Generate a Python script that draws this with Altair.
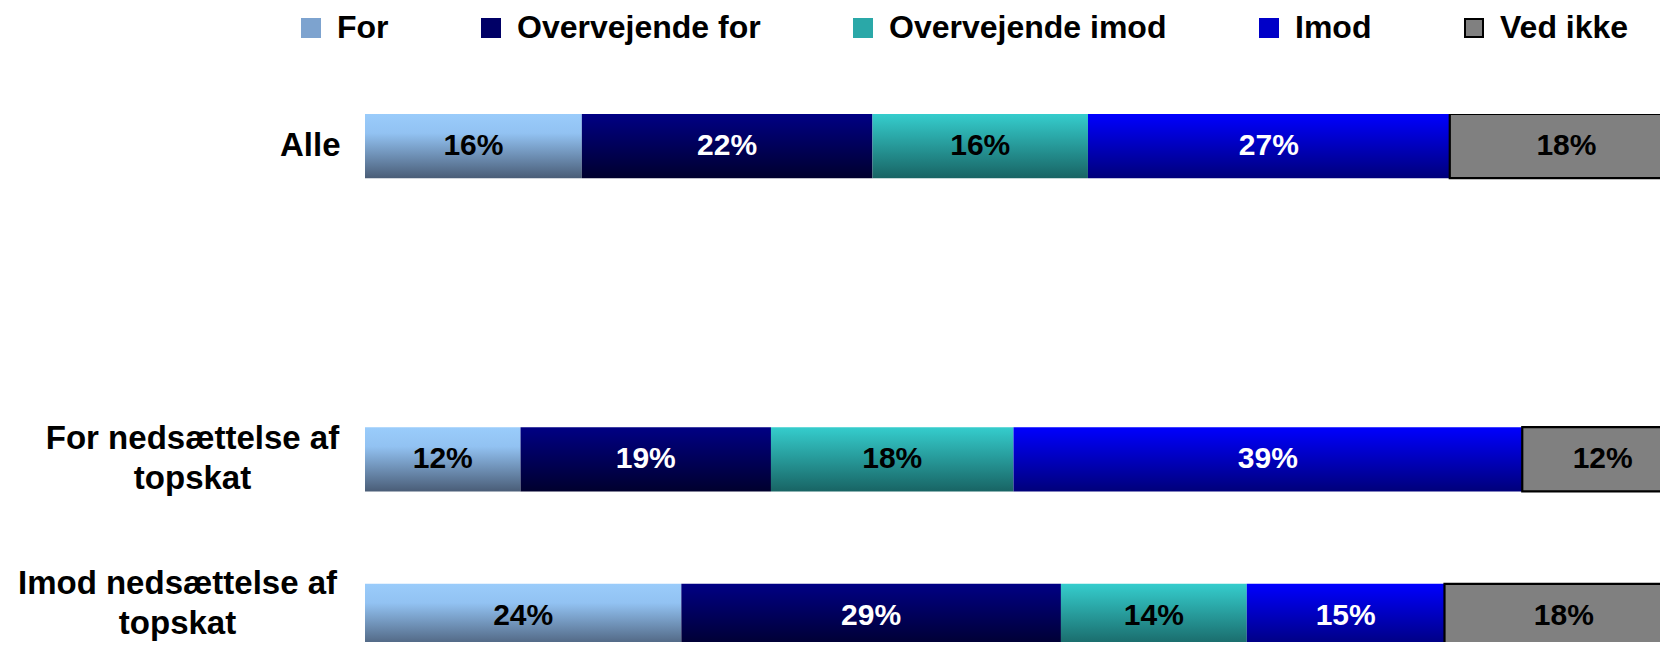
import altair as alt
import pandas as pd

# Answer categories (legend order / stack order)
svar = ["For", "Overvejende for", "Overvejende imod", "Imod", "Ved ikke"]
# Respondent groups (rows)
grupper = ["Alle", "For nedsættelse af\ntopskat", "Imod nedsættelse af\ntopskat"]
# Shares in % (printed labels are rounded)
alle = [16.45, 22.05, 16.35, 27.45, 17.7]
for_nedsaettelse = [11.8, 19.0, 18.4, 38.6, 12.2]
imod_nedsaettelse = [24.0, 28.8, 14.1, 15.0, 18.1]

rows = []
for g, vals in zip(grupper, [alle, for_nedsaettelse, imod_nedsaettelse]):
    for i, (s, v) in enumerate(zip(svar, vals)):
        rows.append({"Gruppe": g, "Svar": s, "Orden": i, "Andel": v})
df = pd.DataFrame(rows)

y_domain = [grupper[0], " ", grupper[1], grupper[2]]

legend_colors = ["#7DA3CF", "#000066", "#2AA8A8", "#0000C8", "#808080"]
stroke_colors = ["#7DA3CF", "#000066", "#2AA8A8", "#0000C8", "#000000"]


def grad(stops):
    return {
        "gradient": "linear", "x1": 0, "y1": 0, "x2": 0, "y2": 1,
        "stops": [{"offset": o, "color": c} for o, c in stops],
    }


gradients = {
    "For": grad([(0, "#9ACCFB"), (0.3, "#92C2F2"), (1, "#4A5D77")]),
    "Overvejende for": grad([(0, "#000084"), (1, "#00002E")]),
    "Overvejende imod": grad([(0, "#35CDCD"), (1, "#186464")]),
    "Imod": grad([(0, "#0000FF"), (1, "#00007A")]),
}
color_conditions = [
    {"test": f"datum.Svar === '{k}'", "value": v} for k, v in gradients.items()
]

FONT = "Liberation Sans"

legend = alt.Legend(
    title=None,
    orient="none",
    legendX=-70,
    legendY=-102,
    direction="horizontal",
    symbolType="square",
    symbolSize=324,
    symbolStrokeWidth=2,
    labelFont=FONT,
    labelFontSize=32,
    labelFontWeight="bold",
    labelColor="black",
    labelOffset=10,
    columnPadding=86,
    padding=0,
    labelLimit=0,
)

PLOT_W = 1295
x_scale = alt.Scale(domain=[0, 98.25], nice=False, zero=True)
# band positions follow the reference; the lowest row runs slightly past the page edge
y_scale = alt.Scale(domain=y_domain, paddingInner=0.59, paddingOuter=0, range=[0, 534])
y_axis = alt.Axis(
    title=None,
    domain=False,
    ticks=False,
    tickSize=0,
    grid=False,
    labelFont=FONT,
    labelFontSize=33,
    labelFontWeight="bold",
    labelColor="black",
    labelLineHeight=40,
    labelBaseline="middle",
    labelLimit=0,
    labelExpr="split(datum.label, '\\n')",
    labelAlign={
        "condition": {"test": "datum.value === 'Alle'", "value": "right"},
        "value": "center",
    },
    labelPadding={
        "condition": [
            {"test": "datum.value === 'Alle'", "value": 25},
            {"test": "indexof(datum.value, 'Imod') === 0", "value": 188},
        ],
        "value": 173,
    },
    labelOffset={
        "condition": [
            {"test": "datum.value === 'Alle'", "value": 0},
            {"test": "indexof(datum.value, 'Imod') === 0", "value": -32},
        ],
        "value": -20,
    },
)

base = alt.Chart(df).transform_stack(
    stack="Andel",
    groupby=["Gruppe"],
    as_=["x0", "x1"],
    sort=[alt.SortField("Orden", order="ascending")],
).transform_calculate(
    mid="(datum.x0 + datum.x1) / 2",
    etiket="format(datum.Andel, '.0f') + '%'",
)

bars = base.mark_bar(clip=True).encode(
    y=alt.Y("Gruppe:N", scale=y_scale, axis=y_axis, sort=y_domain),
    x=alt.X("x0:Q", scale=x_scale, axis=None),
    x2="x1:Q",
    color=alt.Color(
        "Svar:N",
        scale=alt.Scale(domain=svar, range=legend_colors),
        legend=legend,
        condition=color_conditions,
    ),
    stroke=alt.Stroke(
        "Svar:N",
        scale=alt.Scale(domain=svar, range=stroke_colors),
        legend=legend,
    ),
    strokeWidth=alt.condition(
        "datum.Svar === 'Ved ikke'", alt.value(2.2), alt.value(0)
    ),
)

labels = base.mark_text(
    font=FONT, fontSize=30, fontWeight="bold", align="center", baseline="middle"
).encode(
    y=alt.Y("Gruppe:N", scale=y_scale, axis=y_axis, sort=y_domain),
    x=alt.X("mid:Q", scale=x_scale, axis=None),
    text="etiket:N",
    color=alt.condition(
        "datum.Svar === 'Overvejende for' || datum.Svar === 'Imod'",
        alt.value("white"),
        alt.value("black"),
    ),
)

chart = alt.layer(bars, labels).properties(
    width=PLOT_W,
    height=528,
    autosize=alt.AutoSizeParams(type="none"),
    padding={"left": 357, "top": 106, "right": 0, "bottom": 0},
    background="white",
).configure_view(strokeWidth=0)

chart.save("out.html", embed_options={"renderer": "svg", "actions": False})
